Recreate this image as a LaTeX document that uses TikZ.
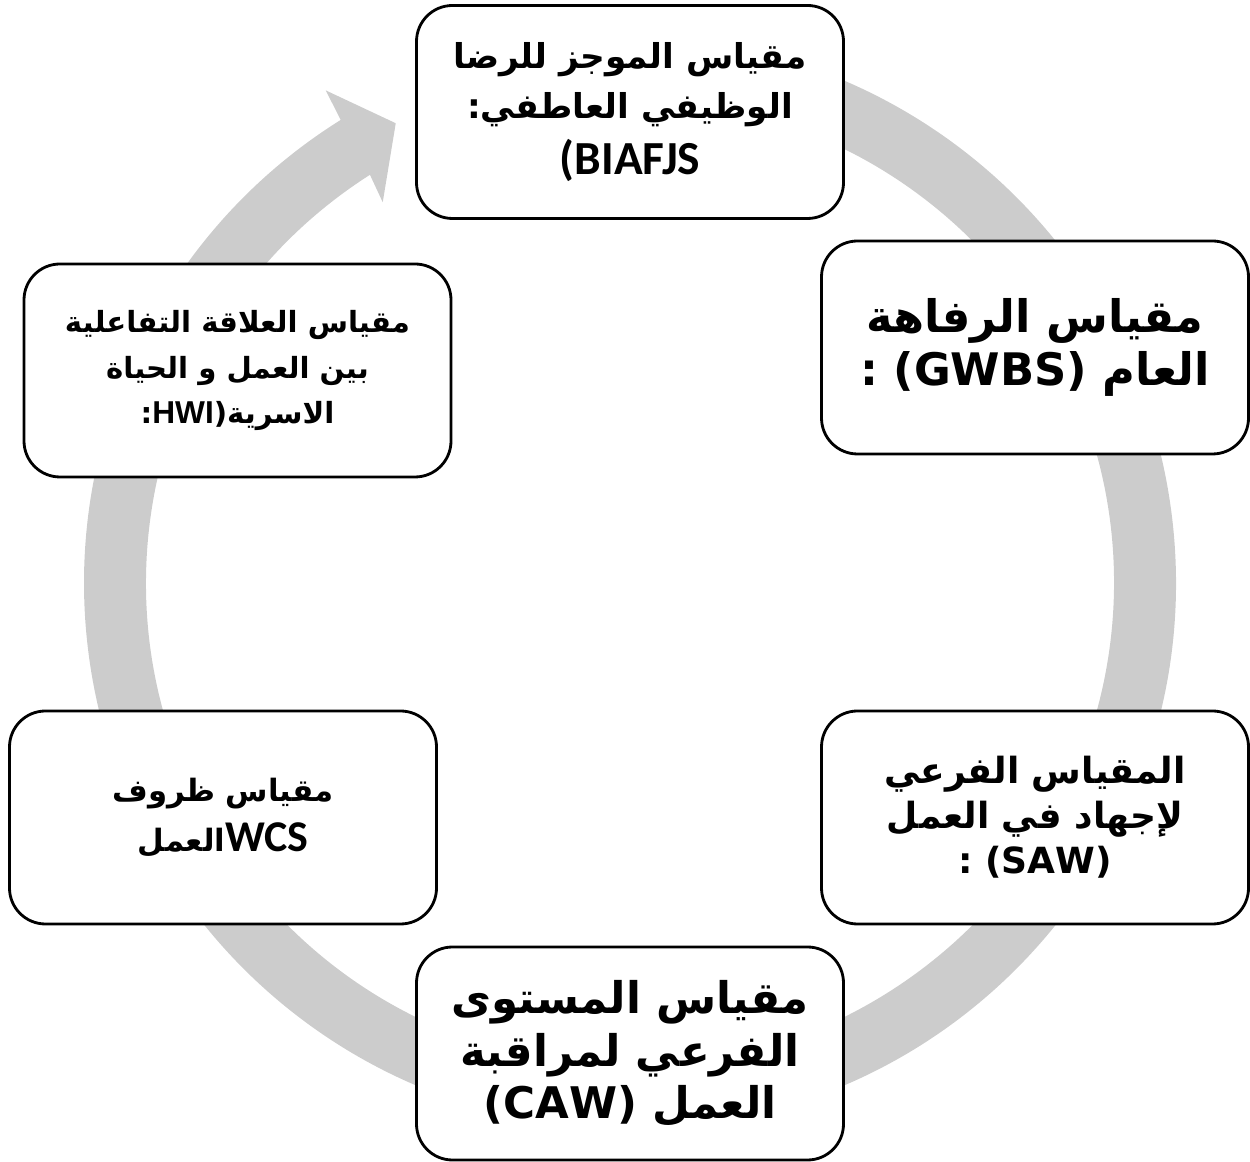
\documentclass[tikz,border=0pt]{standalone}
\usepackage{fontspec}
\TeXXeTstate=1
\setmainfont{DejaVu Sans}
\newfontfamily\arabicfont[Script=Arabic]{DejaVu Sans}
\newfontfamily\calib{Carlito}
\newfontfamily\arialf{Liberation Sans}
\newcommand\rtl[1]{\beginR #1\endR}
\newcommand\ltr[1]{\beginL #1\endL}
\definecolor{ringgray}{RGB}{204,204,204}
\tikzset{
  box/.style={draw=black, line width=1.6pt, fill=white, rounded corners=7.2mm,
    minimum width=85.4mm, minimum height=42.6mm, inner sep=0pt, align=center, text=black}
}
\begin{document}
\begin{tikzpicture}[x=0.2mm,y=0.2mm]
\useasboundingbox (0,0) rectangle (1250,1162);
% circular arrow
\begin{scope}[shift={(630,579)}]
\fill[ringgray] (95:546) arc[start angle=95,end angle=-238,radius=546]
  -- (-238.3:579) -- (-243:516) -- (-237:454) -- (-237.5:484)
  arc[start angle=-237.5,end angle=95,radius=484] -- cycle;
\end{scope}
% boxes
\node[box, font=\arabicfont\bfseries\fontsize{19.5}{28.5}\selectfont] (n1) at (630,1050)
  {\rtl{مقياس الموجز للرضا}\\ \rtl{الوظيفي العاطفي:}\\[3pt] {\calib\bfseries\fontsize{27}{29.6}\selectfont (BIAFJS}};
\node[box, font=\arabicfont\bfseries\fontsize{25.5}{30}\selectfont] (n2) at (1035,814.5)
  {\rtl{مقياس الرفاهة}\\ \rtl{العام \ltr{(GWBS)} :}};
\node[box, font=\arabicfont\bfseries\fontsize{20.5}{25.6}\selectfont] (n3) at (1035,344.5)
  {\rtl{المقياس الفرعي}\\ \rtl{لإجهاد في العمل}\\ \rtl{\ltr{(SAW)} :}};
\node[box, font=\arabicfont\bfseries\fontsize{24.8}{30}\selectfont] (n4) at (630,108.5)
  {\rtl{مقياس المستوى}\\ \rtl{الفرعي لمراقبة}\\ \rtl{العمل \ltr{(CAW)}}};
\node[box, font=\arabicfont\bfseries\fontsize{17.5}{28.4}\selectfont] (n5) at (223,344.5)
  {\rtl{مقياس ظروف}\\ \rtl{{\calib\bfseries\fontsize{25}{28.4}\selectfont WCS}العمل}};
\node[box, font=\arabicfont\bfseries\fontsize{16.6}{26}\selectfont] (n6) at (237.5,791.5)
  {\rtl{مقياس العلاقة التفاعلية}\\ \rtl{بين العمل و الحياة}\\ \rtl{الاسرية({\arialf\bfseries\fontsize{18}{26}\selectfont HWI}:}};
\end{tikzpicture}
\end{document}
